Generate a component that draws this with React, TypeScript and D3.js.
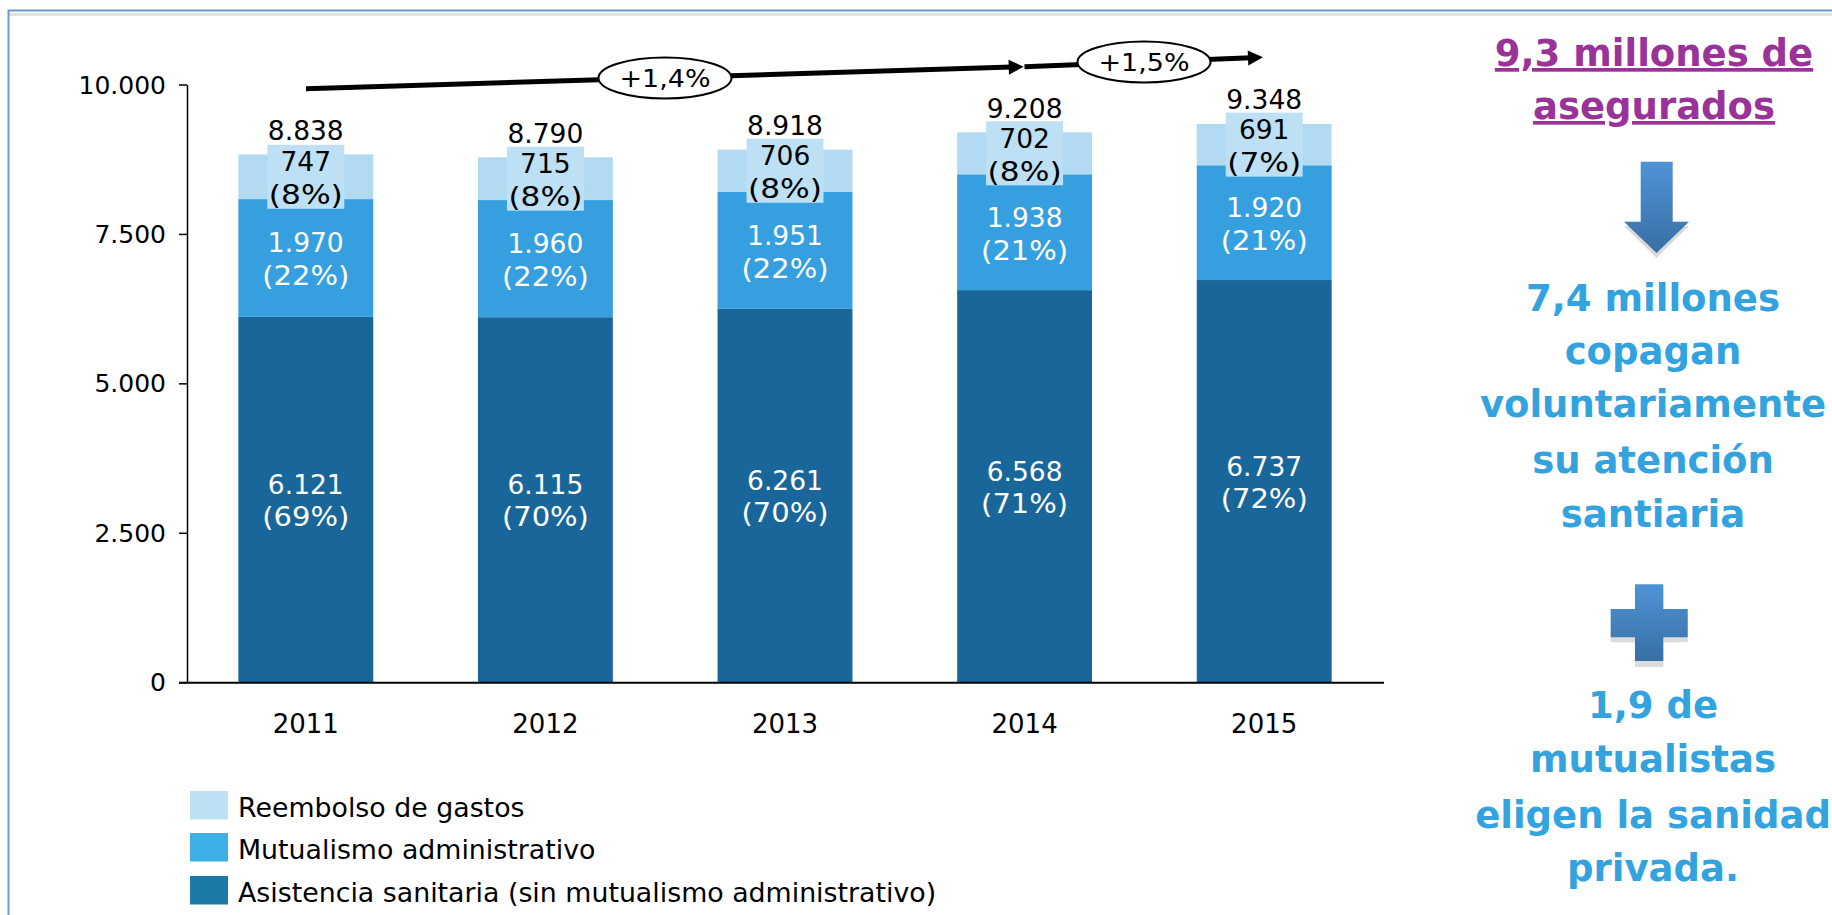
import React from "react";
import * as d3 from "d3";

const years = ["2011", "2012", "2013", "2014", "2015"];
const asistencia = [6121, 6115, 6261, 6568, 6737];
const mutualismo = [1970, 1960, 1951, 1938, 1920];
const reembolso = [747, 715, 706, 702, 691];
const totals = [8838, 8790, 8918, 9208, 9348];
const asistenciaPct = ["(69%)", "(70%)", "(70%)", "(71%)", "(72%)"];
const mutualismoPct = ["(22%)", "(22%)", "(22%)", "(21%)", "(21%)"];
const reembolsoPct = ["(8%)", "(8%)", "(8%)", "(8%)", "(7%)"];
const yTicks = [0, 2500, 5000, 7500, 10000];
const legendItems = ["Reembolso de gastos", "Mutualismo administrativo", "Asistencia sanitaria (sin mutualismo administrativo)"];
const legendColors = ["#bde0f5", "#3fb0e6", "#1c7aa8"];
const purpleLines = [{ t: "9,3 millones de", y: 66 }, { t: "asegurados", y: 119 }];
const blueLines = [
  { t: "7,4 millones", y: 311 }, { t: "copagan", y: 364 }, { t: "voluntariamente", y: 417 },
  { t: "su atención", y: 473 }, { t: "santiaria", y: 527 }, { t: "1,9 de", y: 718 },
  { t: "mutualistas", y: 772 }, { t: "eligen la sanidad", y: 828 }, { t: "privada.", y: 881 },
];

const fmt = (v: number) => d3.format(",")(v).replace(/,/g, ".");
const FONT = "'DejaVu Sans', Verdana, sans-serif";
const x = d3.scaleBand<string>().domain(years).range([186, 1384]).paddingInner(0.437).paddingOuter(0.2185);
const y = d3.scaleLinear().domain([0, 10000]).range([682.7, 85]);
const COL = { dark: "#19669a", mid: "#369fdf", light: "#b2dbf3", box: "#bde0f5" };
const LABEL = 26.5;

function Label({ cx, cy, t, fill = "#000" }: any) {
  return <text x={cx} y={cy} textAnchor="middle" dominantBaseline="central" fontSize={LABEL} fill={fill}>{t}</text>;
}
function Pct({ cx, cy, t, fill = "#000" }: any) {
  return (
    <text x={cx} y={cy} textAnchor="middle" dominantBaseline="central" fontSize={LABEL} fill={fill}
      textLength={t.length > 4 ? 87 : 74} lengthAdjust="spacingAndGlyphs">{t}</text>
  );
}

function Trend({ x1, y1, x2, y2, label, cx, cy }: any) {
  const a = Math.atan2(y2 - y1, x2 - x1);
  const deg = (a * 180) / Math.PI;
  return (
    <g>
      <line x1={x1} y1={y1} x2={x2 - 12} y2={y2 - 12 * Math.sin(a)} stroke="#000" strokeWidth={5} />
      <path d="M0,0L-15,-7.5L-15,7.5Z" fill="#000" transform={`translate(${x2},${y2}) rotate(${deg})`} />
      <ellipse cx={cx} cy={cy} rx={66.5} ry={20.5} fill="#fff" stroke="#000" strokeWidth={2} />
      <text x={cx} y={cy} textAnchor="middle" dominantBaseline="central" fontSize={25} fill="#000"
        textLength={91} lengthAdjust="spacingAndGlyphs">{label}</text>
    </g>
  );
}

export default function App() {
  const bw = x.bandwidth();
  return (
    <svg width={1832} height={915} viewBox="0 0 1832 915" fontFamily={FONT}
      style={{ position: "absolute", left: 0, top: 0, display: "block", background: "#fff" }}>
      <defs>
        <linearGradient id="shape1" x1="0" y1="0" x2="0" y2="1">
          <stop offset="0" stopColor="#4f93d6" /><stop offset="1" stopColor="#386fa5" />
        </linearGradient>
      </defs>
      <rect x={8} y={13} width={1830} height={3} fill="#e2e2e2" />
      <path d="M8.5,920V10.5H1832" fill="none" stroke="#6b9bcf" strokeWidth={2} />

      {years.map((yr, i) => {
        const bx = x(yr)!;
        const cx = bx + bw / 2;
        const y0 = y(asistencia[i]);
        const y1 = y(asistencia[i] + mutualismo[i]);
        const y2 = y(totals[i]);
        return (
          <g key={yr}>
            <rect x={bx} y={y0} width={bw} height={y(0) - y0} fill={COL.dark} />
            <rect x={bx} y={y1} width={bw} height={y0 - y1} fill={COL.mid} />
            <rect x={bx} y={y2} width={bw} height={y1 - y2} fill={COL.light} />
            <rect x={cx - 38.5} y={(y1 + y2) / 2 - 32} width={77} height={64} fill={COL.box} />
            <Label cx={cx} cy={y2 - 24} t={fmt(totals[i])} />
            <Label cx={cx} cy={(y1 + y2) / 2 - 15} t={fmt(reembolso[i])} />
            <Pct cx={cx} cy={(y1 + y2) / 2 + 18} t={reembolsoPct[i]} />
            <Label cx={cx} cy={(y0 + y1) / 2 - 15} t={fmt(mutualismo[i])} fill="#fff" />
            <Pct cx={cx} cy={(y0 + y1) / 2 + 18} t={mutualismoPct[i]} fill="#fff" />
            <Label cx={cx} cy={(y(0) + y0) / 2 - 15} t={fmt(asistencia[i])} fill="#fff" />
            <Pct cx={cx} cy={(y(0) + y0) / 2 + 17} t={asistenciaPct[i]} fill="#fff" />
            <text x={cx} y={724} textAnchor="middle" dominantBaseline="central" fontSize={26}>{yr}</text>
          </g>
        );
      })}

      <line x1={187.5} x2={187.5} y1={y(10000)} y2={y(0)} stroke="#000" strokeWidth={1.5} />
      <line x1={179} x2={1384} y1={y(0)} y2={y(0)} stroke="#000" strokeWidth={2} />
      {yTicks.map((t) => (
        <g key={t}>
          <line x1={179} x2={187} y1={y(t)} y2={y(t)} stroke="#000" strokeWidth={1.5} />
          <text x={166} y={y(t)} textAnchor="end" dominantBaseline="central" fontSize={25}>{fmt(t)}</text>
        </g>
      ))}

      <Trend x1={306} y1={88.7} x2={1023.7} y2={66.7} label="+1,4%" cx={665} cy={78} />
      <Trend x1={1024.5} y1={66.7} x2={1263} y2={57.3} label="+1,5%" cx={1144} cy={62} />

      {legendItems.map((t, i) => {
        const ly = [791, 833, 876][i];
        return (
          <g key={t}>
            <rect x={190} y={ly} width={38} height={28.5} fill={legendColors[i]} />
            <text x={238} y={ly + 16} dominantBaseline="central" fontSize={26.8}>{t}</text>
          </g>
        );
      })}

      {purpleLines.map((l) => (
        <text key={l.t} x={1654} y={l.y} textAnchor="middle" fontSize={37} fontWeight="bold" fill="#993399" textDecoration="underline">{l.t}</text>
      ))}
      {blueLines.map((l) => (
        <text key={l.t} x={1653} y={l.y} textAnchor="middle" fontSize={37} fontWeight="bold" fill="#33a3e0">{l.t}</text>
      ))}

      <path d="M1624,226L1656.5,258L1689,226Z" fill="#d9d9d9" />
      <path d="M1640.7,161.7H1672.7V221.7H1689L1656.5,253L1624,221.7H1640.7Z" fill="url(#shape1)" />
      <path d="M1635,589H1663.3V614H1687.7V642.3H1663.3V667H1635V642.3H1610.7V614H1635Z" fill="#dcdcdc" />
      <path d="M1635,584.3H1663.3V609H1687.7V637.3H1663.3V661H1635V637.3H1610.7V609H1635Z" fill="url(#shape1)" />
    </svg>
  );
}
